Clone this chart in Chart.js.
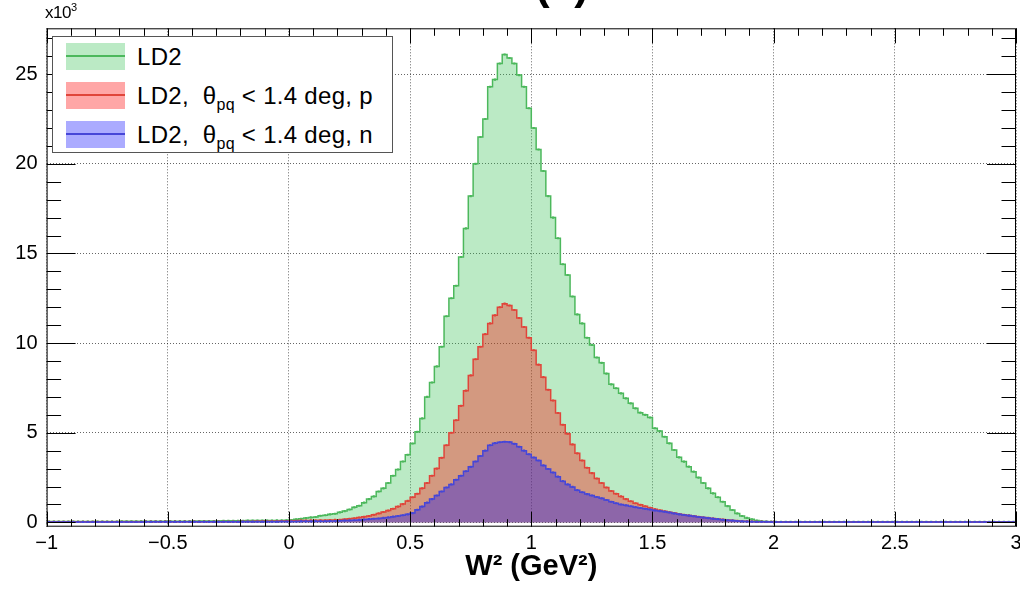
<!DOCTYPE html>
<html lang="en">
<head>
<meta charset="UTF-8" />
<title>W2 (GeV2) - LD2</title>
<script src="https://cdn.jsdelivr.net/npm/chart.js"></script>
<style>
  body { margin: 0; background: #fff; font-family: "Liberation Sans", Arial, sans-serif; }
  #wrap { position: relative; width: 1020px; height: 590px; overflow: hidden; }
  #legend { position: absolute; left: 52px; top: 36px; width: 339px; height: 115px;
            border: 1px solid #555; background: #fff; }
  .row { position: absolute; left: 0; width: 100%; height: 27px; }
  .sw { position: absolute; left: 13px; top: 0; width: 59px; height: 27px; }
  .sw i { position: absolute; left: 0; right: 0; top: 12px; height: 2px; }
  .lab { position: absolute; left: 84px; top: 0; line-height: 27px; font-size: 24px; letter-spacing: 0.3px; color: #000; white-space: nowrap; }
  .lab sub { font-size: 16px; vertical-align: -6px; line-height: 0; }
  #mult { position: absolute; left: 45px; top: 3px; font-size: 17px; letter-spacing: -0.5px; color: #000; }
  #mult sup { font-size: 11px; vertical-align: 7px; line-height: 0; }
</style>
</head>
<body>
<div id="wrap">
  <canvas id="w2Chart" width="1020" height="590"></canvas>
  <div id="mult">x10<sup>3</sup></div>
  <div id="legend">
    <div class="row" style="top:6px">
      <div class="sw" style="background:rgba(50,190,80,0.33)"><i style="background:#4cb85c"></i></div>
      <div class="lab">LD2</div>
    </div>
    <div class="row" style="top:45px">
      <div class="sw" style="background:rgba(255,0,0,0.35)"><i style="background:#e0453a"></i></div>
      <div class="lab">LD2,&nbsp; θ<sub>pq</sub> &lt; 1.4 deg, p</div>
    </div>
    <div class="row" style="top:84px">
      <div class="sw" style="background:rgba(0,0,255,0.33)"><i style="background:#4646d8"></i></div>
      <div class="lab">LD2,&nbsp; θ<sub>pq</sub> &lt; 1.4 deg, n</div>
    </div>
  </div>
</div>

<script>
  // histogram binning: 200 bins of 0.02 from -1 to 3
  const binLow = -1;
  const binWidth = 0.02;

  // counts per bin, in units of 10^3
  const ld2 = [
    0.05, 0.05, 0.05, 0.05, 0.05, 0.05, 0.05, 0.05, 0.05, 0.05, 0.05, 0.05, 0.05, 0.05, 0.05, 0.06, 0.06, 0.06, 0.06, 0.06,
    0.06, 0.06, 0.06, 0.06, 0.07, 0.07, 0.07, 0.07, 0.07, 0.07, 0.07, 0.08, 0.08, 0.08, 0.08, 0.08, 0.09, 0.09, 0.09, 0.09,
    0.09, 0.10, 0.10, 0.10, 0.10, 0.10, 0.10, 0.11, 0.11, 0.12, 0.13, 0.17, 0.20, 0.24, 0.28, 0.30, 0.37, 0.40, 0.45, 0.48,
    0.56, 0.63, 0.72, 0.84, 0.93, 1.10, 1.30, 1.45, 1.72, 1.90, 2.20, 2.60, 2.95, 3.40, 3.77, 4.40, 5.05, 5.80, 7.00, 7.80,
    8.70, 9.80, 11.5, 12.5, 13.2, 14.8, 16.4, 18.2, 20.0, 21.5, 22.5, 24.3, 24.7, 25.6, 26.1, 25.9, 25.6, 24.95, 24.3, 23.1,
    22.0, 20.8, 19.6, 18.2, 17.0, 15.85, 14.4, 13.8, 12.6, 11.6, 11.1, 10.3, 9.90, 9.20, 8.90, 8.30, 7.70, 7.48, 7.20, 6.92,
    6.64, 6.36, 6.12, 6.00, 5.85, 5.25, 5.10, 4.78, 4.41, 4.04, 3.63, 3.39, 3.11, 2.83, 2.50, 2.20, 1.90, 1.62, 1.40, 1.15,
    0.91, 0.69, 0.50, 0.36, 0.25, 0.17, 0.10, 0.07, 0.05, 0.04, 0.03, 0.03, 0.03, 0.03, 0.03, 0.03, 0.03, 0.03, 0.03, 0.03,
    0.03, 0.03, 0.03, 0.03, 0.03, 0.03, 0.03, 0.03, 0.03, 0.03, 0.03, 0.03, 0.03, 0.03, 0.03, 0.03, 0.03, 0.03, 0.03, 0.03,
    0.03, 0.03, 0.03, 0.03, 0.03, 0.03, 0.03, 0.03, 0.03, 0.03, 0.03, 0.03, 0.03, 0.03, 0.03, 0.03, 0.03, 0.03, 0.03, 0.03
  ];

  const ld2p = [
    0.03, 0.03, 0.03, 0.03, 0.03, 0.03, 0.03, 0.03, 0.03, 0.03, 0.03, 0.03, 0.03, 0.03, 0.03, 0.03, 0.03, 0.03, 0.03, 0.03,
    0.04, 0.04, 0.04, 0.04, 0.04, 0.04, 0.04, 0.04, 0.04, 0.04, 0.04, 0.04, 0.04, 0.04, 0.04, 0.04, 0.04, 0.04, 0.04, 0.04,
    0.05, 0.05, 0.05, 0.06, 0.06, 0.06, 0.07, 0.07, 0.08, 0.08, 0.09, 0.09, 0.10, 0.10, 0.11, 0.11, 0.12, 0.12, 0.13, 0.14,
    0.15, 0.17, 0.20, 0.23, 0.27, 0.31, 0.36, 0.42, 0.50, 0.58, 0.66, 0.76, 0.88, 1.02, 1.20, 1.40, 1.60, 1.90, 2.20, 2.60,
    3.00, 3.60, 4.30, 5.00, 5.70, 6.50, 7.35, 8.20, 9.10, 9.80, 10.5, 11.1, 11.55, 12.0, 12.2, 12.1, 11.85, 11.4, 10.9, 10.3,
    9.60, 8.80, 8.10, 7.40, 6.80, 6.10, 5.45, 4.95, 4.35, 3.85, 3.45, 3.05, 2.75, 2.45, 2.20, 1.95, 1.75, 1.60, 1.45, 1.30,
    1.18, 1.07, 0.98, 0.90, 0.82, 0.74, 0.68, 0.62, 0.57, 0.52, 0.47, 0.43, 0.39, 0.35, 0.31, 0.28, 0.25, 0.22, 0.19, 0.16,
    0.13, 0.11, 0.09, 0.07, 0.06, 0.05, 0.04, 0.04, 0.03, 0.03, 0.02, 0.02, 0.02, 0.02, 0.02, 0.02, 0.02, 0.02, 0.02, 0.02,
    0.02, 0.02, 0.02, 0.02, 0.02, 0.02, 0.02, 0.02, 0.02, 0.02, 0.02, 0.02, 0.02, 0.02, 0.02, 0.02, 0.02, 0.02, 0.02, 0.02,
    0.02, 0.02, 0.02, 0.02, 0.02, 0.02, 0.02, 0.02, 0.02, 0.02, 0.02, 0.02, 0.02, 0.02, 0.02, 0.02, 0.02, 0.02, 0.02, 0.02
  ];

  const ld2n = [
    0.02, 0.02, 0.02, 0.02, 0.02, 0.02, 0.02, 0.02, 0.02, 0.02, 0.02, 0.02, 0.02, 0.02, 0.02, 0.02, 0.02, 0.02, 0.02, 0.02,
    0.03, 0.03, 0.03, 0.03, 0.03, 0.03, 0.03, 0.03, 0.03, 0.03, 0.03, 0.03, 0.03, 0.03, 0.03, 0.03, 0.03, 0.03, 0.03, 0.03,
    0.04, 0.04, 0.04, 0.04, 0.04, 0.04, 0.04, 0.04, 0.05, 0.05, 0.05, 0.05, 0.06, 0.06, 0.06, 0.07, 0.07, 0.07, 0.08, 0.08,
    0.09, 0.10, 0.11, 0.12, 0.14, 0.16, 0.18, 0.20, 0.22, 0.25, 0.28, 0.32, 0.36, 0.40, 0.45, 0.52, 0.70, 0.88, 1.10, 1.30,
    1.50, 1.72, 1.95, 2.12, 2.38, 2.60, 2.85, 3.10, 3.40, 3.70, 4.00, 4.30, 4.42, 4.47, 4.50, 4.48, 4.38, 4.22, 4.00, 3.80,
    3.62, 3.45, 3.18, 2.98, 2.78, 2.55, 2.30, 2.12, 1.98, 1.80, 1.68, 1.58, 1.50, 1.42, 1.34, 1.25, 1.15, 1.07, 1.00, 0.95,
    0.90, 0.85, 0.80, 0.76, 0.72, 0.67, 0.63, 0.60, 0.55, 0.50, 0.45, 0.41, 0.38, 0.34, 0.30, 0.27, 0.24, 0.21, 0.18, 0.15,
    0.12, 0.10, 0.08, 0.06, 0.05, 0.04, 0.03, 0.03, 0.03, 0.02, 0.02, 0.02, 0.02, 0.02, 0.02, 0.02, 0.02, 0.02, 0.02, 0.02,
    0.02, 0.02, 0.02, 0.02, 0.02, 0.02, 0.02, 0.02, 0.02, 0.02, 0.02, 0.02, 0.02, 0.02, 0.02, 0.02, 0.02, 0.02, 0.02, 0.02,
    0.02, 0.02, 0.02, 0.02, 0.02, 0.02, 0.02, 0.02, 0.02, 0.02, 0.02, 0.02, 0.02, 0.02, 0.02, 0.02, 0.02, 0.02, 0.02, 0.02
  ];

  const xTicks = [-1, -0.5, 0, 0.5, 1, 1.5, 2, 2.5, 3];
  const yTicks = [0, 5, 10, 15, 20, 25];

  const binCenters = ld2.map((_, i) => +(binLow + binWidth * (i + 0.5)).toFixed(3));

  function hist(label, values, line, fill, order) {
    return {
      label: label,
      data: values.map((v, i) => ({ x: binCenters[i], y: v })),
      stepped: "middle",
      borderColor: line,
      backgroundColor: fill,
      borderWidth: 1.5,
      fill: "origin",
      pointRadius: 1.5,
      pointStyle: "rect",
      pointBackgroundColor: line,
      pointBorderWidth: 0,
      order: order
    };
  }

  // ROOT style frame: box, inward ticks on all four sides, cut-off pad title
  const rootFrame = {
    id: "rootFrame",
    afterDraw(chart) {
      const { ctx, chartArea: a, scales } = chart;
      const x = scales.x, y = scales.y;
      ctx.save();
      ctx.strokeStyle = "#000";
      ctx.lineWidth = 1;
      ctx.strokeRect(a.left + 0.5, a.top + 0.5, a.width - 1, a.height - 1);
      ctx.beginPath();
      for (let k = -10; k <= 30; k++) {
        const px = Math.round(x.getPixelForValue(k / 10)) + 0.5;
        const len = k % 5 === 0 ? 15 : 7.5;
        ctx.moveTo(px, a.bottom); ctx.lineTo(px, a.bottom - len);
        ctx.moveTo(px, a.top); ctx.lineTo(px, a.top + len);
      }
      for (let k = 0; k <= 27; k++) {
        const py = Math.round(y.getPixelForValue(k)) + 0.5;
        const len = k % 5 === 0 ? 29 : 14.5;
        ctx.moveTo(a.left, py); ctx.lineTo(a.left + len, py);
        ctx.moveTo(a.right, py); ctx.lineTo(a.right - len, py);
      }
      ctx.stroke();
      ctx.fillStyle = "#000";
      ctx.font = "bold 44px 'Liberation Sans', Arial, sans-serif";
      ctx.textAlign = "center";
      ctx.textBaseline = "alphabetic";
      ctx.fillText("(a)", 562, -1);
      ctx.restore();
    }
  };

  const ctx = document.getElementById("w2Chart").getContext("2d");
  new Chart(ctx, {
    type: "line",
    data: {
      datasets: [
        hist("LD2", ld2, "#4cb85c", "rgba(50,190,80,0.33)", 3),
        hist("LD2, θpq < 1.4 deg, p", ld2p, "#e0453a", "rgba(255,0,0,0.35)", 2),
        hist("LD2, θpq < 1.4 deg, n", ld2n, "#4646d8", "rgba(0,0,255,0.33)", 1)
      ]
    },
    options: {
      responsive: false,
      animation: false,
      layout: { padding: { top: 28.3, right: 2.6, left: 0, bottom: 0 } },
      plugins: {
        legend: { display: false },
        tooltip: { enabled: false }
      },
      scales: {
        x: {
          type: "linear",
          min: -1,
          max: 3,
          afterBuildTicks: s => { s.ticks = xTicks.map(v => ({ value: v })); },
          afterFit: s => { s.height = 63.3; s.paddingLeft = 0; s.paddingRight = 0; },
          ticks: {
            color: "#000",
            padding: 5,
            maxRotation: 0,
            autoSkip: false,
            font: { size: 20, family: "'Liberation Sans', Arial, sans-serif" },
            callback: v => String(v).replace("-", "\u2212")
          },
          grid: { color: "rgba(0,0,0,0.6)", drawTicks: false, lineWidth: 1 },
          border: { display: false, dash: [1, 2] },
          title: {
            display: true,
            text: "W² (GeV²)",
            color: "#000",
            font: { size: 29, weight: "bold", family: "'Liberation Sans', Arial, sans-serif" },
            padding: { top: 0, bottom: 6 }
          }
        },
        y: {
          min: -0.24,
          max: 27.56,
          afterBuildTicks: s => { s.ticks = yTicks.map(v => ({ value: v })); },
          afterFit: s => { s.width = 46.6; s.paddingTop = 0; s.paddingBottom = 0; },
          ticks: {
            color: "#000",
            padding: 9,
            font: { size: 20, family: "'Liberation Sans', Arial, sans-serif" }
          },
          grid: { color: "rgba(0,0,0,0.6)", drawTicks: false, lineWidth: 1 },
          border: { display: false, dash: [1, 2] }
        }
      }
    },
    plugins: [rootFrame]
  });
</script>
</body>
</html>
